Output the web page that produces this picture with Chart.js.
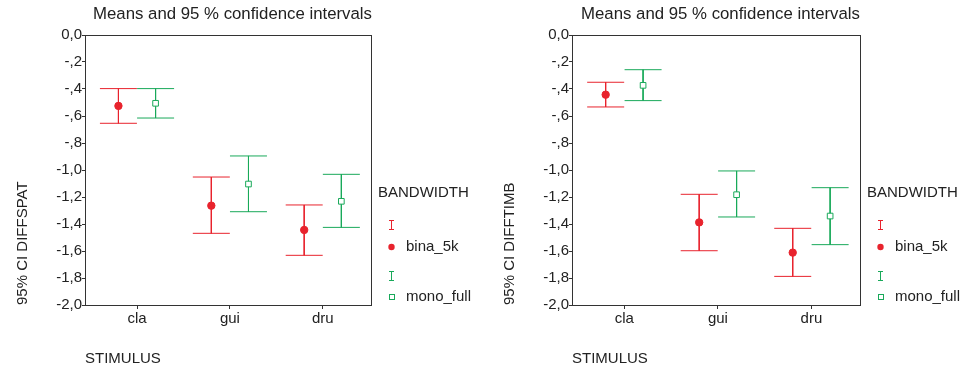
<!DOCTYPE html>
<html>
<head>
<meta charset="utf-8">
<script src="https://cdn.jsdelivr.net/npm/chart.js@4.4.1/dist/chart.umd.min.js"></script>
<style>
  body { margin: 0; background: #fff; }
  canvas { position: absolute; top: 0; }
</style>
</head>
<body>
<canvas id="spat" width="487" height="369" style="left:0"></canvas>
<canvas id="timb" width="480" height="369" style="left:487px"></canvas>
<script>
// categories and tick labels
let categories = ["cla", "gui", "dru"];
let yTicks = [0, -0.2, -0.4, -0.6, -0.8, -1.0, -1.2, -1.4, -1.6, -1.8, -2.0];
let yTickLabels = ["0,0", "-,2", "-,4", "-,6", "-,8", "-1,0", "-1,2", "-1,4", "-1,6", "-1,8", "-2,0"];

// DIFFSPAT (left chart)
let spatBinaMean = [-0.525, -1.264, -1.444];
let spatBinaHigh = [-0.397, -1.052, -1.259];
let spatBinaLow = [-0.654, -1.469, -1.632];
let spatMonoMean = [-0.506, -1.104, -1.232];
let spatMonoHigh = [-0.397, -0.896, -1.032];
let spatMonoLow = [-0.615, -1.309, -1.425];

// DIFFTIMB (right chart)
let timbBinaMean = [-0.442, -1.388, -1.612];
let timbBinaHigh = [-0.350, -1.180, -1.432];
let timbBinaLow = [-0.533, -1.598, -1.788];
let timbMonoMean = [-0.373, -1.183, -1.341];
let timbMonoHigh = [-0.257, -1.007, -1.131];
let timbMonoLow = [-0.486, -1.348, -1.553];

const red = "#e8232d";
const green = "#19a95a";
const axisColor = "#333";
const textColor = "#222";
const fontFamily = '"Liberation Sans", Arial, sans-serif';

//draws frame, titles and the BANDWIDTH legend
const decor = {
  id: "decor",
  afterDraw(chart, args, opts) {
    const ctx = chart.ctx;
    const a = chart.chartArea;
    ctx.save();
    ctx.strokeStyle = axisColor;
    ctx.lineWidth = 1;
    ctx.strokeRect(Math.round(a.left) + 0.5, Math.round(a.top) + 0.5, Math.round(a.right - a.left) - 1, Math.round(a.bottom - a.top));

    ctx.fillStyle = textColor;
    ctx.font = "16.8px " + fontFamily;
    ctx.textAlign = "center";
    ctx.textBaseline = "alphabetic";
    ctx.fillText("Means and 95 % confidence intervals", (a.left + a.right) / 2 + 4, 19);

    ctx.font = "15px " + fontFamily;
    ctx.textAlign = "left";
    ctx.fillText("STIMULUS", a.left, 363);

    ctx.save();
    ctx.translate(23, a.bottom);
    ctx.rotate(-Math.PI / 2);
    ctx.textBaseline = "middle";
    ctx.fillText(opts.yTitle, 0, 0);
    ctx.restore();

    // legend
    let x0 = a.right + 6;
    let sx = x0 + 13;
    ctx.textBaseline = "middle";
    ctx.fillText("BANDWIDTH", x0, 193);
    ctx.fillText("bina_5k", x0 + 28, 247);
    ctx.fillText("mono_full", x0 + 28, 297);

    function ibar(y, color) {
      ctx.strokeStyle = color;
      ctx.beginPath();
      ctx.moveTo(sx + 0.5, y - 5);
      ctx.lineTo(sx + 0.5, y + 5);
      ctx.moveTo(sx - 2, y - 5 + 0.5);
      ctx.lineTo(sx + 3, y - 5 + 0.5);
      ctx.moveTo(sx - 2, y + 5 - 0.5);
      ctx.lineTo(sx + 3, y + 5 - 0.5);
      ctx.stroke();
    }
    ibar(225, red);
    ibar(276, green);

    ctx.fillStyle = red;
    ctx.beginPath();
    ctx.arc(sx + 0.5, 247, 3.2, 0, Math.PI * 2);
    ctx.fill();

    ctx.strokeStyle = green;
    ctx.fillStyle = "#fff";
    ctx.fillRect(sx - 2, 295, 5, 5);
    ctx.strokeRect(sx - 2 + 0.5, 294.5, 5, 5);
    ctx.restore();
  },
};

//build error bar datasets for one series
function errorSeries(mean, high, low, shift, color, isBina) {
  let stems = [];
  let caps = [];
  let marks = [];
  for (let i = 0; i < mean.length; i++) {
    let x = i + 1 + shift;
    stems.push({ x: x, y: high[i] }, { x: x, y: low[i] }, { x: x, y: null });
    caps.push({ x: x, y: high[i] }, { x: x, y: low[i] });
    marks.push({ x: x, y: mean[i] });
  }
  return [
    {
      type: "scatter",
      data: marks,
      pointStyle: isBina ? "circle" : "rect",
      pointRadius: isBina ? 3.7 : 4,
      backgroundColor: isBina ? color : "#fff",
      borderColor: color,
      borderWidth: 1,
    },
    {
      type: "scatter",
      data: caps,
      pointStyle: "line",
      pointRadius: 18.5,
      borderColor: color,
      borderWidth: 1,
    },
    {
      type: "line",
      data: stems,
      spanGaps: false,
      pointRadius: 0,
      borderColor: color,
      borderWidth: 1,
    },
  ];
}

function makeChart(id, yTitle, rightPad, bMean, bHigh, bLow, mMean, mHigh, mLow) {
  const ctx = document.getElementById(id).getContext("2d");
  return new Chart(ctx, {
    type: "scatter",
    data: {
      datasets: [
        ...errorSeries(bMean, bHigh, bLow, -0.2, red, true),
        ...errorSeries(mMean, mHigh, mLow, 0.2, green, false),
      ],
    },
    options: {
      responsive: false,
      animation: false,
      layout: { padding: { top: 35, right: rightPad, bottom: 0, left: 0 } },
      plugins: {
        legend: { display: false },
        tooltip: { enabled: false },
        decor: { yTitle: yTitle },
      },
      scales: {
        x: {
          type: "linear",
          min: 0.44,
          max: 3.53,
          afterBuildTicks: (scale) => {
            scale.ticks = categories.map((c, i) => ({ value: i + 1 }));
          },
          afterFit: (scale) => {
            scale.height = 64;
          },
          ticks: {
            color: textColor,
            font: { family: fontFamily, size: 15 },
            padding: 1,
            callback: (value) => categories[value - 1],
          },
          grid: { drawOnChartArea: false, tickLength: 4, color: axisColor },
          border: { display: false },
        },
        y: {
          min: -2,
          max: 0,
          afterBuildTicks: (scale) => {
            scale.ticks = yTicks.map((v) => ({ value: v }));
          },
          afterFit: (scale) => {
            scale.width = 85;
          },
          ticks: {
            color: textColor,
            font: { family: fontFamily, size: 15 },
            padding: 0,
            callback: (value, index) => yTickLabels[index],
          },
          grid: { drawOnChartArea: false, tickLength: 3, color: axisColor },
          border: { display: false },
        },
      },
    },
    plugins: [decor],
  });
}

makeChart("spat", "95% CI DIFFSPAT", 115, spatBinaMean, spatBinaHigh, spatBinaLow, spatMonoMean, spatMonoHigh, spatMonoLow);
makeChart("timb", "95% CI DIFFTIMB", 106, timbBinaMean, timbBinaHigh, timbBinaLow, timbMonoMean, timbMonoHigh, timbMonoLow);
</script>
</body>
</html>
